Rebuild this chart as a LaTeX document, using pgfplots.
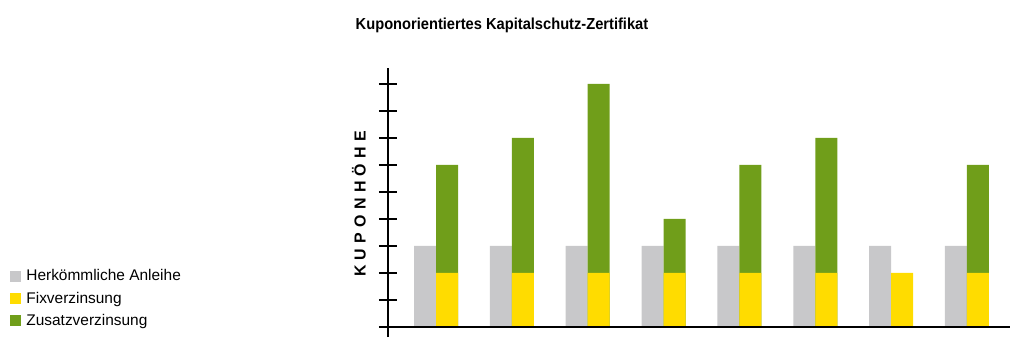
\documentclass[border=0pt]{standalone}
\usepackage{fontspec}
\setmainfont{Liberation Sans}
\usepackage{pgfplots}
\pgfplotsset{compat=1.18}
\definecolor{cgray}{RGB}{200,200,202}
\definecolor{cyellow}{RGB}{255,220,0}
\definecolor{cgreen}{RGB}{112,158,26}
\begin{document}
\begin{tikzpicture}
\path[use as bounding box] (0,0) rectangle (1020bp,354bp);
\begin{axis}[
  at={(388bp,17bp)}, anchor=south west,
  scale only axis, width=622bp, height=269bp,
  xmin=-0.633, xmax=7.567, ymin=-0.37, ymax=9.59,
  axis x line=none, axis y line*=left,
  y axis line style={line width=2bp, black},
  ytick={1,2,3,4,5,6,7,8,9}, yticklabels={},
  xtick=\empty,
  tick align=center, major tick length=18bp,
  ytick style={line width=1.3bp, black},
  clip=false,
  legend style={at={(-0.613,0.264)}, anchor=north west, draw=none, fill=none,
    font=\fontsize{15.5}{18}\selectfont, row sep=6.5bp,
    nodes={inner sep=1.5bp}},
  legend cell align=left,
  legend image code/.code={\fill[#1, draw=none] (0bp,-5.5bp) rectangle (11bp,5.5bp); \path[draw=none, fill=none] (0bp,-1bp) rectangle (15bp,1bp);},
]
\addlegendimage{fill=cgray, draw=none}
\addlegendentry{Herkömmliche Anleihe}
\addlegendimage{fill=cyellow, draw=none}
\addlegendentry{Fixverzinsung}
\addlegendimage{fill=cgreen, draw=none}
\addlegendentry{Zusatzverzinsung}
% gray: conventional bond
\addplot[ybar, bar width=22bp, bar shift=-11bp, fill=cgray, draw=none, forget plot]
  coordinates {(0,3) (1,3) (2,3) (3,3) (4,3) (5,3) (6,3) (7,3)};
% green: total (fixed + additional), drawn first
\addplot[ybar, bar width=22bp, bar shift=11bp, fill=cgreen, draw=none, forget plot]
  coordinates {(0,6) (1,7) (2,9) (3,4) (4,6) (5,7) (7,6)};
% yellow: fixed coupon
\addplot[ybar, bar width=22bp, bar shift=11bp, fill=cyellow, draw=none, forget plot]
  coordinates {(0,2) (1,2) (2,2) (3,2) (4,2) (5,2) (6,2) (7,2)};
\draw[line width=2bp, black] (axis cs:-0.752,0) -- (axis cs:7.567,0);
\end{axis}
\node[font={\fontsize{16}{18}\addfontfeature{FakeStretch=0.92}\bfseries\selectfont}] at (502bp,329bp) {Kuponorientiertes Kapitalschutz-Zertifikat};
\node[rotate=90, font={\fontsize{16}{18}\bfseries\addfontfeature{LetterSpace=33}\selectfont}] at (359bp,150bp) {KUPONHÖHE};
\end{tikzpicture}
\end{document}
